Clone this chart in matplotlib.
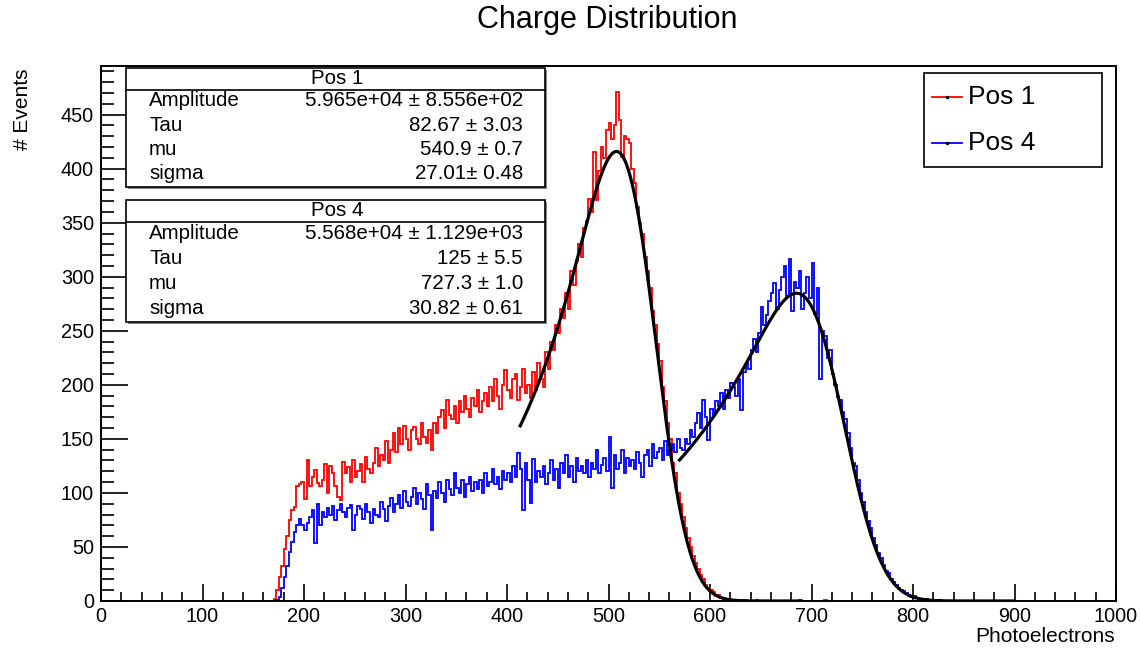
import math
import numpy as np
import matplotlib
matplotlib.use("Agg")
import matplotlib.pyplot as plt
from matplotlib.patches import Rectangle
from matplotlib.lines import Line2D
from matplotlib.ticker import MultipleLocator

plt.rcParams['font.family'] = ['Liberation Sans', 'DejaVu Sans']

# histogram contents (bin width 2.5 PE)
bin_width = 2.5

pos1_start = 170.0
pos1_counts = [
    2, 10, 22, 32, 48, 60, 75, 84, 87, 106, 108, 110, 94, 130, 106, 115, 121, 109, 106, 112,
    127, 100, 125, 118, 106, 96, 93, 129, 118, 124, 110, 130, 115, 120, 127, 110, 133, 122, 118, 128,
    142, 125, 135, 130, 148, 128, 140, 155, 138, 160, 145, 162, 150, 140, 158, 161, 150, 145, 165, 152,
    146, 158, 140, 165, 155, 170, 177, 160, 186, 172, 168, 180, 165, 185, 175, 190, 178, 170, 188, 180,
    195, 175, 185, 192, 180, 198, 185, 205, 190, 178, 200, 214, 195, 188, 205, 210, 186, 198, 215, 192,
    200, 188, 212, 195, 220, 205, 198, 230, 215, 240, 232, 255, 248, 270, 262, 285, 270, 305, 292, 315,
    330, 318, 345, 352, 372, 360, 415, 371, 398, 420, 410, 436, 442, 427, 440, 471, 445, 411, 430, 427,
    424, 400, 387, 365, 350, 340, 318, 305, 290, 268, 255, 238, 222, 198, 185, 165, 150, 128, 118, 100,
    90, 78, 68, 58, 50, 42, 35, 30, 24, 20, 15, 12, 10, 8, 5, 6, 3, 2, 2, 1,
    1, 0, 1, 0, 0, 1, 0, 0, 0, 0, 1, 0, 0, 0, 0, 0, 0, 0, 0, 0,
    0, 0, 0, 0, 0, 0, 0, 1, 0, 0, 0, 0, 0, 0, 0, 0, 0, 1, 0, 0,
]

pos4_start = 172.5
pos4_counts = [
    1, 4, 12, 22, 32, 45, 55, 64, 70, 76, 70, 66, 72, 78, 84, 54, 90, 70, 82, 78,
    86, 80, 88, 75, 84, 90, 82, 78, 86, 89, 66, 80, 88, 85, 76, 90, 82, 72, 85, 80,
    78, 92, 85, 74, 88, 95, 82, 90, 98, 86, 102, 92, 88, 96, 105, 90, 100, 94, 85, 108,
    98, 66, 102, 95, 110, 100, 92, 112, 104, 98, 118, 105, 100, 112, 96, 108, 115, 102, 110, 104,
    112, 100, 118, 106, 110, 122, 108, 115, 104, 120, 112, 118, 110, 125, 115, 137, 122, 84, 128, 112,
    91, 131, 110, 120, 115, 125, 108, 118, 130, 112, 122, 105, 128, 118, 135, 115, 125, 110, 132, 120,
    125, 118, 130, 115, 128, 122, 140, 118, 126, 132, 120, 152, 105, 135, 122, 128, 140, 118, 132, 125,
    130, 122, 138, 128, 115, 135, 140, 125, 145, 132, 138, 142, 130, 148, 135, 140, 145, 138, 150, 142,
    140, 150, 145, 158, 152, 165, 174, 160, 186, 170, 149, 178, 172, 185, 180, 192, 178, 195, 188, 202,
    198, 190, 205, 177, 212, 220, 215, 232, 242, 230, 248, 272, 255, 265, 278, 285, 294, 270, 288, 300,
    310, 282, 316, 268, 295, 290, 305, 270, 285, 300, 280, 313, 266, 290, 205, 250, 245, 225, 232, 210,
    200, 189, 186, 175, 168, 155, 142, 128, 125, 112, 100, 92, 82, 74, 68, 58, 52, 44, 40, 33,
    28, 26, 20, 18, 15, 12, 10, 9, 7, 5, 4, 5, 3, 2, 2, 1, 2, 1, 0, 1,
    0, 1, 0, 0, 0, 0, 0, 0,
]

# fit results: Amplitude, Tau, mu, sigma
fit_names = ["Amplitude", "Tau", "mu", "sigma"]
pos1_fit = [5.965e4, 82.67, 540.9, 27.01]
pos1_fit_text = ["5.965e+04 \u00b1 8.556e+02", "82.67 \u00b1 3.03", "540.9 \u00b1 0.7", "27.01\u00b1 0.48"]
pos1_fit_range = [413, 690]
pos4_fit = [5.568e4, 125.0, 727.3, 30.82]
pos4_fit_text = ["5.568e+04 \u00b1 1.129e+03", "125 \u00b1 5.5", "727.3 \u00b1 1.0", "30.82 \u00b1 0.61"]
pos4_fit_range = [570, 900]


def emg(x, amp, tau, mu, sigma):
    # exponentially modified gaussian with the tail on the low side
    erfc = np.vectorize(math.erfc)
    z = (sigma / tau + (x - mu) / sigma) / math.sqrt(2)
    return amp / (2 * tau) * np.exp(sigma**2 / (2 * tau**2) + (x - mu) / tau) * erfc(z)


fig = plt.figure(figsize=(11.4, 6.49), dpi=100)
W, H = 1140, 649
L, R, T, B = 101, 1116, 66, 601
ax = fig.add_axes([L / W, (H - B) / H, (R - L) / W, (B - T) / H])


def px(x, y):
    # pixel position -> axes fraction
    return (x - L) / (R - L), (B - y) / (B - T)


edges1 = pos1_start + bin_width * np.arange(len(pos1_counts) + 1)
edges4 = pos4_start + bin_width * np.arange(len(pos4_counts) + 1)
ax.stairs(pos1_counts, edges1, color='#ff0000', lw=1.3, zorder=2)
ax.stairs(pos4_counts, edges4, color='#0000ff', lw=1.3, zorder=2)

for pars, rng in [(pos1_fit, pos1_fit_range), (pos4_fit, pos4_fit_range)]:
    xs = np.linspace(rng[0], rng[1], 400)
    ax.plot(xs, emg(xs, *pars), color='black', lw=2.3, zorder=3)

ax.set_xlim(0, 1000)
ax.set_ylim(0, 495)
ax.xaxis.set_major_locator(MultipleLocator(100))
ax.xaxis.set_minor_locator(MultipleLocator(20))
ax.yaxis.set_major_locator(MultipleLocator(50))
ax.yaxis.set_minor_locator(MultipleLocator(10))
ax.tick_params(axis='x', which='major', direction='in', length=12.5, width=1.2, labelsize=14.3, pad=4)
ax.tick_params(axis='x', which='minor', direction='in', length=6.3, width=1.2)
ax.tick_params(axis='y', which='major', direction='in', length=19.5, width=1.2, labelsize=14.3, pad=5)
ax.tick_params(axis='y', which='minor', direction='in', length=9.6, width=1.2)
for s in ax.spines.values():
    s.set_linewidth(1.4)

fig.text(607 / W, 1 - 20 / H, "Charge Distribution", fontsize=22, ha='center', va='center')
fig.text(1115 / W, 1 - 637 / H, "Photoelectrons", fontsize=15, ha='right', va='center')
fig.text(22 / W, 1 - 68 / H, "# Events", fontsize=15, rotation=90, ha='center', va='top')

# stat boxes
boxes = [("Pos 1", pos1_fit_text, 68, 187), ("Pos 4", pos4_fit_text, 200, 322)]
for title, vals, top, bottom in boxes:
    x0, y1 = px(126, top)
    x1, y0 = px(545, bottom)
    sx, sy = 1.5 / (R - L), 1.5 / (B - T)
    ax.add_patch(Rectangle((x0 + sx, y0 - sy), x1 - x0, y1 - y0, transform=ax.transAxes,
                           facecolor='#888888', edgecolor='none', zorder=4))
    ax.add_patch(Rectangle((x0, y0), x1 - x0, y1 - y0, transform=ax.transAxes,
                           facecolor='white', edgecolor='black', lw=1.2, zorder=5))
    hy = px(0, top + 22)[1]
    ax.plot([x0, x1], [hy, hy], transform=ax.transAxes, color='black', lw=1.2, zorder=6)
    ax.text(px(337, 0)[0], px(0, top + 11)[1], title, transform=ax.transAxes,
            fontsize=14.8, ha='center', va='center', zorder=6)
    row_step = (bottom - top - 22) / 4
    for i, (name, val) in enumerate(zip(fit_names, vals)):
        ry = px(0, top + 22 + row_step * (i + 0.45))[1]
        ax.text(px(149, 0)[0], ry, name, transform=ax.transAxes, fontsize=14.8, ha='left', va='center', zorder=6)
        ax.text(px(523, 0)[0], ry, val, transform=ax.transAxes, fontsize=14.8, ha='right', va='center', zorder=6)

# legend
lx0, ly1 = px(924, 73)
lx1, ly0 = px(1102, 167)
ax.add_patch(Rectangle((lx0, ly0), lx1 - lx0, ly1 - ly0, transform=ax.transAxes,
                       facecolor='white', edgecolor='black', lw=1.2, zorder=5))
for label, color, y in [("Pos 1", '#ff0000', 97), ("Pos 4", '#0000ff', 143)]:
    ax.add_line(Line2D([px(932, 0)[0], px(962, 0)[0]], [px(0, y)[1]] * 2, transform=ax.transAxes,
                       color=color, lw=1.3, zorder=6))
    ax.add_line(Line2D([px(947, 0)[0]], [px(0, y)[1]], transform=ax.transAxes, marker='o',
                       markersize=1.5, color='black', zorder=7))
    ax.text(px(968, 0)[0], px(0, y)[1], label, transform=ax.transAxes, fontsize=19,
            ha='left', va='center', zorder=6)

fig.savefig("out.png", dpi=100)
